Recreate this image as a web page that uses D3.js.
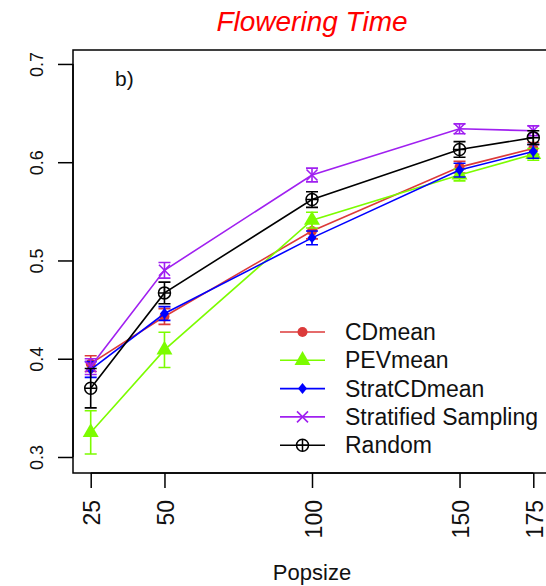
<!DOCTYPE html>
<html lang="en">
<head>
<meta charset="UTF-8">
<title>Flowering Time</title>
<script src="https://cdn.jsdelivr.net/npm/d3@7"></script>
<style>
    body{ margin:0; background:#fff; }
    svg{ display:block; font-family:"Liberation Sans", Arial, sans-serif; }
</style>
</head>
<body>
<script>
    var popsize = [25, 50, 100, 150, 175];
    var yTicks = [0.3, 0.4, 0.5, 0.6, 0.7];

    var names   = ['CDmean', 'PEVmean', 'StratCDmean', 'Stratified Sampling', 'Random'];
    var colors  = ['#dc3a3a', '#7cfc00', '#0000ff', '#a020f0', '#000000'];
    var symbols = ['circle', 'triangle', 'diamond', 'cross', 'circleplus'];

    var cdmean      = [0.395, 0.443, 0.530, 0.595, 0.614];
    var pevmean     = [0.325, 0.409, 0.541, 0.587, 0.608];
    var stratcdmean = [0.389, 0.446, 0.523, 0.592, 0.611];
    var stratified  = [0.392, 0.490, 0.587, 0.634, 0.632];
    var random      = [0.370, 0.467, 0.562, 0.613, 0.625];

    var cdmeanErr      = [0.008, 0.008, 0.008, 0.006, 0.006];
    var pevmeanErr     = [0.022, 0.018, 0.008, 0.006, 0.006];
    var stratcdmeanErr = [0.008, 0.007, 0.007, 0.007, 0.007];
    var stratifiedErr  = [0.008, 0.008, 0.007, 0.005, 0.005];
    var randomErr      = [0.020, 0.011, 0.008, 0.008, 0.007];

    var values = [cdmean, pevmean, stratcdmean, stratified, random];
    var errors = [cdmeanErr, pevmeanErr, stratcdmeanErr, stratifiedErr, randomErr];

    var width = 546, height = 586;
    var plotLeft = 73, plotRight = 551, plotTop = 50, plotBottom = 473;

    var x = d3.scaleLinear().domain([19, 181]).range([plotLeft, plotRight]);
    var y = d3.scaleLinear().domain([0.2837, 0.7142]).range([plotBottom, plotTop]);

    var svg = d3.select('body').append('svg')
        .attr('width', width).attr('height', height);

    // title
    svg.append('text')
        .attr('x', (plotLeft + plotRight) / 2).attr('y', 31)
        .attr('text-anchor', 'middle')
        .attr('fill', '#ff0000')
        .style('font-size', '28px').style('font-style', 'italic')
        .text('Flowering Time');

    // box
    svg.append('rect')
        .attr('x', plotLeft).attr('y', plotTop)
        .attr('width', plotRight - plotLeft).attr('height', plotBottom - plotTop)
        .attr('fill', 'none').attr('stroke', '#000').attr('stroke-width', 1.5);

    // y axis
    var yAxis = svg.append('g').attr('transform', 'translate(' + plotLeft + ',0)')
        .call(d3.axisLeft(y).tickValues(yTicks).tickSize(15).tickFormat(d3.format('.1f')));
    yAxis.select('.domain')
        .attr('d', 'M0,' + y(0.3) + 'V' + y(0.7))
        .attr('stroke-width', 1.5);
    yAxis.selectAll('.tick line').attr('stroke-width', 1.5);
    yAxis.selectAll('.tick text')
        .attr('x', null).attr('dy', null)
        .attr('transform', 'translate(-30,0) rotate(-90)')
        .attr('text-anchor', 'middle')
        .attr('fill', '#111')
        .style('font-size', '18px');

    // x axis
    var xAxis = svg.append('g').attr('transform', 'translate(0,' + plotBottom + ')')
        .call(d3.axisBottom(x).tickValues(popsize).tickSize(15).tickFormat(d3.format('d')));
    xAxis.select('.domain')
        .attr('d', 'M' + x(25) + ',0H' + x(175))
        .attr('stroke-width', 1.5);
    xAxis.selectAll('.tick line').attr('stroke-width', 1.5);
    xAxis.selectAll('.tick text')
        .attr('y', null).attr('dy', null)
        .attr('transform', 'translate(9,27) rotate(-90)')
        .attr('text-anchor', 'end')
        .attr('fill', '#111')
        .style('font-size', '23px');

    svg.append('text')
        .attr('x', (plotLeft + plotRight) / 2).attr('y', 580)
        .attr('text-anchor', 'middle')
        .attr('fill', '#111')
        .style('font-size', '22px')
        .text('Popsize');

    svg.append('text')
        .attr('x', 115).attr('y', 86)
        .attr('fill', '#111')
        .style('font-size', '21px')
        .text('b)');

    // marker drawing
    function marker(g, type, color, cx, cy) {
        if (type === 'circle') {
            g.append('circle').attr('cx', cx).attr('cy', cy).attr('r', 5).attr('fill', color);
        } else if (type === 'triangle') {
            g.append('path').attr('d', d3.symbol(d3.symbolTriangle, 110)())
                .attr('transform', 'translate(' + cx + ',' + cy + ')').attr('fill', color);
        } else if (type === 'diamond') {
            g.append('path').attr('d', 'M0,-5.5L4.5,0L0,5.5L-4.5,0Z')
                .attr('transform', 'translate(' + cx + ',' + cy + ')').attr('fill', color);
        } else if (type === 'cross') {
            g.append('path').attr('d', 'M-5.5,-5.5L5.5,5.5M-5.5,5.5L5.5,-5.5')
                .attr('transform', 'translate(' + cx + ',' + cy + ')')
                .attr('stroke', color).attr('stroke-width', 1.6).attr('fill', 'none');
        } else {
            g.append('circle').attr('cx', cx).attr('cy', cy).attr('r', 6)
                .attr('stroke', color).attr('stroke-width', 1.5).attr('fill', 'none');
            g.append('path').attr('d', 'M-6,0H6M0,-6V6')
                .attr('transform', 'translate(' + cx + ',' + cy + ')')
                .attr('stroke', color).attr('stroke-width', 1.5);
        }
    }

    var line = d3.line()
        .x(function(d, i){ return x(popsize[i]); })
        .y(function(d){ return y(d); });

    values.forEach(function(vals, s) {
        var g = svg.append('g');
        var col = colors[s];
        g.append('path').datum(vals)
            .attr('d', line)
            .attr('fill', 'none').attr('stroke', col).attr('stroke-width', 1.6);
        vals.forEach(function(v, i) {
            var cx = x(popsize[i]), e = errors[s][i];
            var y0 = y(v - e), y1 = y(v + e);
            g.append('path')
                .attr('d', 'M' + cx + ',' + y0 + 'V' + y1 +
                           'M' + (cx - 6) + ',' + y0 + 'H' + (cx + 6) +
                           'M' + (cx - 6) + ',' + y1 + 'H' + (cx + 6))
                .attr('stroke', col).attr('stroke-width', 1.6).attr('fill', 'none');
            marker(g, symbols[s], col, cx, y(v));
        });
    });

    // legend
    var legend = svg.append('g');
    names.forEach(function(n, i) {
        var ly = 332 + i * 28.3;
        legend.append('line')
            .attr('x1', 280).attr('x2', 325).attr('y1', ly).attr('y2', ly)
            .attr('stroke', colors[i]).attr('stroke-width', 1.6);
        marker(legend, symbols[i], colors[i], 302.5, ly);
        legend.append('text')
            .attr('x', 345).attr('y', ly + 8)
            .attr('fill', '#111')
            .style('font-size', '23px')
            .text(n);
    });
</script>
</body>
</html>
